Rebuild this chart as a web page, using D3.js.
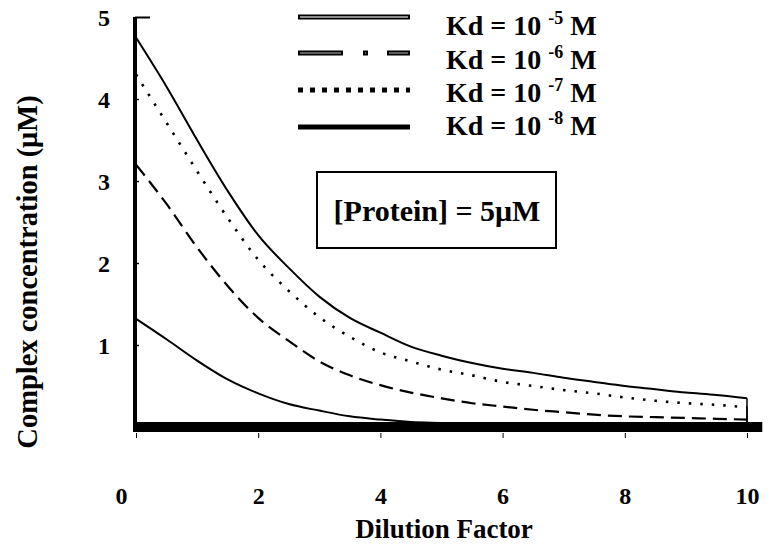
<!DOCTYPE html>
<html>
<head>
<meta charset="utf-8">
<script src="https://cdn.jsdelivr.net/npm/d3@7"></script>
<style>
  body { margin: 0; background: #fff; }
  svg text { font-family: "Times New Roman", Times, "Liberation Serif", "DejaVu Serif", serif !important; font-weight: bold; }
</style>
</head>
<body>
<svg width="770" height="546"></svg>
<script>
var width = 770;
var height = 546;

// Data
var dilution = [0, 0.5, 1, 1.5, 2, 2.5, 3, 3.5, 4, 4.5, 5, 5.5, 6, 6.5, 7, 7.5, 8, 8.5, 9, 9.5, 10];
var kd8 = [4.75, 4.15, 3.5, 2.88, 2.34, 1.94, 1.59, 1.33, 1.15, 0.98, 0.87, 0.78, 0.71, 0.66, 0.60, 0.55, 0.50, 0.46, 0.42, 0.39, 0.35];
var kd7 = [4.3, 3.71, 3.12, 2.55, 2.04, 1.66, 1.34, 1.10, 0.91, 0.80, 0.70, 0.63, 0.55, 0.50, 0.45, 0.41, 0.36, 0.32, 0.29, 0.27, 0.24];
var kd6 = [3.2, 2.72, 2.19, 1.72, 1.33, 1.05, 0.80, 0.63, 0.51, 0.42, 0.35, 0.29, 0.25, 0.21, 0.18, 0.15, 0.13, 0.12, 0.11, 0.10, 0.09];
var kd5 = [1.32, 1.07, 0.81, 0.58, 0.41, 0.28, 0.20, 0.13, 0.09, 0.06, 0.05, 0.04, 0.035, 0.03, 0.025, 0.02, 0.02, 0.015, 0.015, 0.01, 0.01];
var kdExponents = ['-5', '-6', '-7', '-8'];
var xTicks = [0, 2, 4, 6, 8, 10];
var yTicks = [1, 2, 3, 4, 5];

var svg = d3.select('svg');
var serif = '"Times New Roman", Times, "Liberation Serif", "DejaVu Serif", serif';

// Scales
var xScale = d3.scaleLinear().domain([0, 10]).range([136, 747]);
var yScale = d3.scaleLinear().domain([0, 5]).range([427, 17]);

// Y axis (thick line, small inward ticks)
var yAxis = d3.axisLeft(yScale)
              .tickValues(yTicks)
              .tickSize(-4)
              .tickSizeOuter(0)
              .tickFormat(d3.format('d'));

var gy = svg.append('g')
    .attr('transform', 'translate(135,0)')
    .call(yAxis)
    .attr('font-family', serif);
gy.select('.domain').attr('stroke-width', 4).attr('d', 'M0,' + yScale(5) + 'V' + (yScale(0) + 5));
gy.selectAll('.tick line').attr('stroke-width', 1.5);
gy.selectAll('.tick').filter(d => d === 5).select('line').attr('x2', 15).attr('stroke-width', 2);
gy.selectAll('.tick text')
    .attr('x', -25)
    .attr('dy', '0.35em')
    .attr('font-size', 24);

// X axis: thick base band, ticks below
svg.append('line')
    .attr('x1', xScale(0) - 3)
    .attr('x2', xScale(10.25))
    .attr('y1', yScale(0))
    .attr('y2', yScale(0))
    .attr('stroke', '#000')
    .attr('stroke-width', 10);

var xAxis = d3.axisBottom(xScale)
              .tickValues(xTicks)
              .tickSize(5)
              .tickSizeOuter(0);

var gx = svg.append('g')
    .attr('transform', 'translate(0,' + (yScale(0) + 6) + ')')
    .call(xAxis)
    .attr('font-family', serif);
gx.select('.domain').remove();
gx.selectAll('.tick text')
    .attr('y', 71)
    .attr('dy', 0)
    .attr('dx', d => d === 0 ? -15 : 0)
    .attr('font-size', 24);

// Curves
var series = [
  { values: kd5, dash: null, width: 2 },
  { values: kd6, dash: '14,7', width: 2.2 },
  { values: kd7, dash: '2.5,9', width: 2.6 },
  { values: kd8, dash: null, width: 2 }
];

var line = d3.line()
    .x(d => xScale(d[0]))
    .y(d => yScale(d[1]))
    .curve(d3.curveMonotoneX);

svg.selectAll('path.curve')
    .data(series)
    .enter()
    .append('path')
    .attr('class', 'curve')
    .attr('fill', 'none')
    .attr('stroke', '#000')
    .attr('stroke-width', d => d.width)
    .attr('stroke-dasharray', d => d.dash)
    .attr('d', d => line(dilution.map((x, i) => [x, d.values[i]])));

// closing drops at the right end of the two top curves
[kd8, kd7].forEach(function (vals) {
  svg.append('line')
      .attr('x1', xScale(10)).attr('x2', xScale(10))
      .attr('y1', yScale(vals[vals.length - 1]))
      .attr('y2', yScale(0))
      .attr('stroke', '#000')
      .attr('stroke-width', 1.5);
});

// Legend
var legendY = [17, 53, 90, 127];
var legendG = svg.append('g');

// Kd 1e-5: hollow double line
legendG.append('line').attr('x1', 298).attr('x2', 410).attr('y1', legendY[0]).attr('y2', legendY[0])
    .attr('stroke', '#000').attr('stroke-width', 5);
legendG.append('line').attr('x1', 300).attr('x2', 408).attr('y1', legendY[0]).attr('y2', legendY[0])
    .attr('stroke', '#bbb').attr('stroke-width', 1.5);
// Kd 1e-6: dash - square - dash
legendG.append('line').attr('x1', 298).attr('x2', 410).attr('y1', legendY[1]).attr('y2', legendY[1])
    .attr('stroke', '#000').attr('stroke-width', 5).attr('stroke-dasharray', '45,20,5,19,23');
legendG.append('line').attr('x1', 300).attr('x2', 408).attr('y1', legendY[1]).attr('y2', legendY[1])
    .attr('stroke', '#bbb').attr('stroke-width', 1.2).attr('stroke-dasharray', '41,24,1,23,19');
// Kd 1e-7: square dots
legendG.append('line').attr('x1', 298).attr('x2', 410).attr('y1', legendY[2]).attr('y2', legendY[2])
    .attr('stroke', '#000').attr('stroke-width', 5).attr('stroke-dasharray', '5,7');
// Kd 1e-8: solid
legendG.append('line').attr('x1', 298).attr('x2', 410).attr('y1', legendY[3]).attr('y2', legendY[3])
    .attr('stroke', '#000').attr('stroke-width', 5);

var legendText = legendG.selectAll('text')
    .data(kdExponents)
    .enter()
    .append('text')
    .attr('x', 446)
    .attr('y', (d, i) => [35, 69, 102, 135][i])
    .attr('font-size', 28);
legendText.append('tspan').text('Kd = 10 ');
legendText.append('tspan').attr('dy', -11).attr('font-size', 18).text(d => d);
legendText.append('tspan').attr('dy', 11).text(' M');

// Protein box
svg.append('rect')
    .attr('x', 317).attr('y', 172)
    .attr('width', 239).attr('height', 76)
    .attr('fill', '#fff')
    .attr('stroke', '#000')
    .attr('stroke-width', 2);
svg.append('text')
    .attr('x', 437).attr('y', 221)
    .style('text-anchor', 'middle')
    .attr('font-size', 30)
    .text('[Protein] = 5\u03BCM');

// Axis titles
svg.append('text')
    .attr('x', 444)
    .attr('y', 538)
    .style('text-anchor', 'middle')
    .attr('font-size', 27)
    .text('Dilution Factor');

svg.append('text')
    .attr('transform', 'rotate(-90)')
    .attr('x', -272)
    .attr('y', 37)
    .style('text-anchor', 'middle')
    .attr('font-size', 28.5)
    .text('Complex concentration (\u03BCM)');
</script>
</body>
</html>
